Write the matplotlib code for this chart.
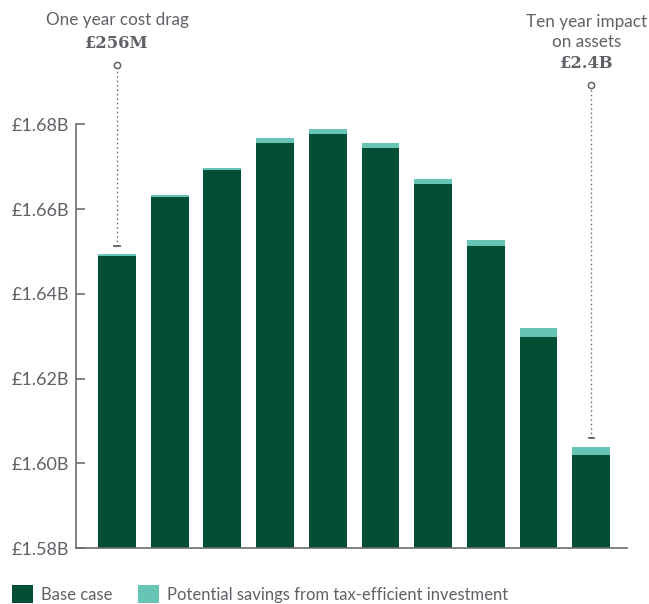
import matplotlib
matplotlib.use("Agg")
import matplotlib.pyplot as plt
from matplotlib.ticker import FuncFormatter

# values in £ billions
years = list(range(1, 11))
base_case = [1.6490, 1.6628, 1.6691, 1.6757, 1.6776, 1.6743, 1.6658, 1.6512, 1.6299, 1.6020]
savings = [0.0003, 0.0005, 0.0006, 0.0010, 0.0012, 0.0014, 0.0014, 0.0016, 0.0021, 0.0019]
y_ticks = [1.58, 1.60, 1.62, 1.64, 1.66, 1.68]

dark_green = "#024f36"
light_green = "#66c5b4"
grey = "#5f6166"
axis_grey = "#6b6d72"

plt.rcParams["font.family"] = ["Lato", "DejaVu Sans"]

fig = plt.figure(figsize=(6.49, 6.04), dpi=100)
W, H = 649, 604
ax = fig.add_axes([76 / W, (H - 548) / H, (627 - 76) / W, (548 - 124.3) / H])

x = list(range(len(years)))
b1 = ax.bar(x, base_case, width=0.72, color=dark_green, bottom=0, zorder=2)
b2 = ax.bar(x, savings, width=0.72, bottom=base_case, color=light_green, zorder=2)

ax.set_ylim(1.58, 1.68)
ax.set_xlim(-0.78, 9.68)
ax.set_yticks(y_ticks)
ax.yaxis.set_major_formatter(FuncFormatter(lambda v, p: f"£{v:.2f}B"))
ax.set_xticks([])
ax.tick_params(axis="y", direction="in", length=6.5, width=1.2, color=axis_grey,
               labelsize=13, labelcolor=grey, pad=5)
for side in ["top", "right"]:
    ax.spines[side].set_visible(False)
for side in ["left", "bottom"]:
    ax.spines[side].set_color(axis_grey)
    ax.spines[side].set_linewidth(1.2)


def px_to_val(py):
    return 1.58 + (548 - py) / 4237


# dotted callouts above the first and last bars
def callout(i, y_top, y_bottom):
    ax.plot([i, i], [y_bottom, y_top], color=grey, linestyle=(0, (1, 2.2)),
            linewidth=1, clip_on=False, zorder=3)
    ax.plot([i], [y_top], marker="o", markersize=4.5, markerfacecolor="white",
            markeredgecolor=grey, markeredgewidth=1.1, clip_on=False, zorder=4)
    ax.plot([i - 0.05, i + 0.05], [y_bottom, y_bottom], color=grey, linewidth=1.3,
            clip_on=False, zorder=4)


callout(0, px_to_val(65), px_to_val(246))
callout(9, px_to_val(85), px_to_val(438))

fig.text(117 / W, 1 - 20 / H, "One year cost drag", ha="center", va="center",
         fontsize=12.3, color=grey)
fig.text(117 / W, 1 - 44 / H, "£256M", ha="center", va="center", fontsize=11.8,
         color=grey, fontweight="bold", family=["DejaVu Serif"])
fig.text(587 / W, 1 - 22 / H, "Ten year impact", ha="center", va="center",
         fontsize=12.3, color=grey)
fig.text(587 / W, 1 - 42 / H, "on assets", ha="center", va="center",
         fontsize=12.3, color=grey)
fig.text(587 / W, 1 - 64 / H, "£2.4B", ha="center", va="center", fontsize=11.8,
         color=grey, fontweight="bold", family=["DejaVu Serif"])

fig.legend([b1, b2], ["Base case", "Potential savings from tax-efficient investment"],
           loc="lower left", bbox_to_anchor=(12 / W, 1 / H), ncol=2,
           frameon=False, fontsize=12, labelcolor=grey, handlelength=1.25,
           handleheight=1.25, handletextpad=0.5, columnspacing=1.5,
           borderpad=0, borderaxespad=0)

fig.savefig("out.png", dpi=100)
